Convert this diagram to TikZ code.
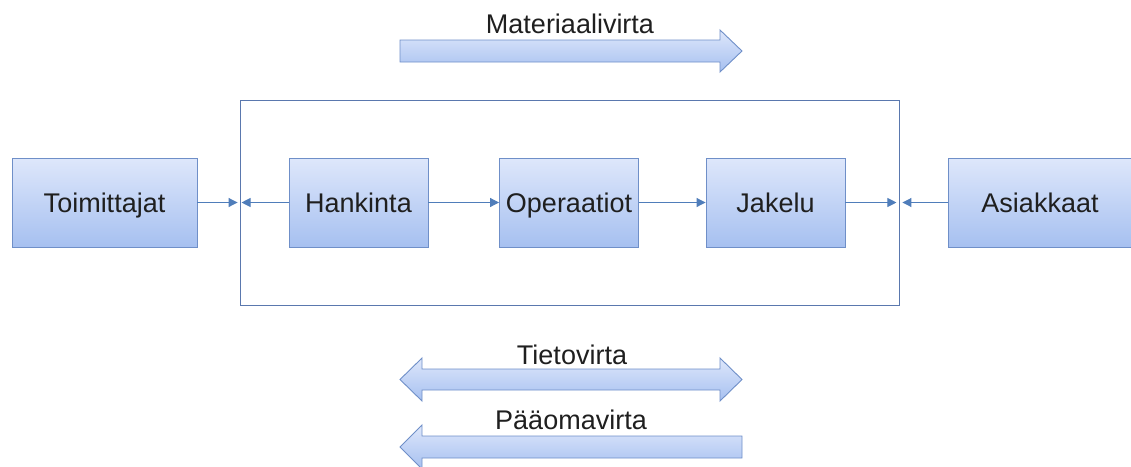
\documentclass[tikz,border=0pt]{standalone}
\usepackage{fontspec}
\setmainfont{Liberation Sans}
\usetikzlibrary{arrows.meta}
\definecolor{boxtop}{HTML}{DEE7FB}
\definecolor{boxbot}{HTML}{A6C0F0}
\definecolor{boxline}{HTML}{6F8FC8}
\definecolor{frameline}{HTML}{5A78AE}
\definecolor{linkline}{HTML}{4F7DBA}
\tikzset{
  lbl/.style={font=\fontsize{27}{30}\selectfont, text=black!88, text height=20pt, text depth=0pt},
  unit/.style={lbl, draw=boxline, line width=0.9pt, top color=boxtop, bottom color=boxbot,
    minimum height=89pt, inner sep=0pt},
  frame/.style={draw=frameline, line width=0.9pt, minimum width=659pt, minimum height=205pt, inner sep=0pt},
  link/.style={draw=linkline, line width=1pt, -{Triangle[length=9pt,width=9pt]}},
  flow/.style={draw=boxline, line width=0.9pt, top color=boxtop, bottom color=boxbot, line join=miter}
}
\begin{document}
\begin{tikzpicture}[x=1pt,y=-1pt]
\useasboundingbox (0,0) rectangle (1131,466);

% supply chain frame and its units
\node[frame] (frame) at (569.5,202.5) {};
\node[unit, minimum width=185pt] (toim) at (104.5,202.5) {Toimittajat};
\node[unit, minimum width=139pt] (hank) at (358.5,202.5) {Hankinta};
\node[unit, minimum width=139pt] (oper) at (569,202.5) {Operaatiot};
\node[unit, minimum width=139pt] (jake) at (775.5,202.5) {Jakelu};
\node[unit, minimum width=184pt] (asia) at (1040,202.5) {Asiakkaat};

% links between units
\draw[link, shorten >=2pt] (toim.east) -- (frame.west);
\draw[link, shorten >=2pt] (hank.west) -- (frame.west);
\draw[link] (hank.east) -- (oper.west);
\draw[link] (oper.east) -- (jake.west);
\draw[link, shorten >=3pt] (jake.east) -- (frame.east);
\draw[link, shorten >=3pt] (asia.west) -- (frame.east);

% material flow (left to right)
\path[flow] (400,40) -- (720,40) -- (720,30) -- (742,51) -- (720,72) -- (720,62) -- (400,62) -- cycle;
\node[lbl] (mat) at (570,23) {Materiaalivirta};

% information flow (both ways)
\path[flow] (400,379.5) -- (422,358) -- (422,369) -- (720,369) -- (720,358) -- (742,379.5)
  -- (720,401) -- (720,390) -- (422,390) -- (422,401) -- cycle;
\node[lbl] (tieto) at (572,354) {Tietovirta};

% capital flow (right to left)
\path[flow] (400,447) -- (422,425) -- (422,436) -- (742,436) -- (742,458) -- (422,458) -- (422,469) -- cycle;
\node[lbl] (paaoma) at (571,419) {Pääomavirta};
\end{tikzpicture}
\end{document}
